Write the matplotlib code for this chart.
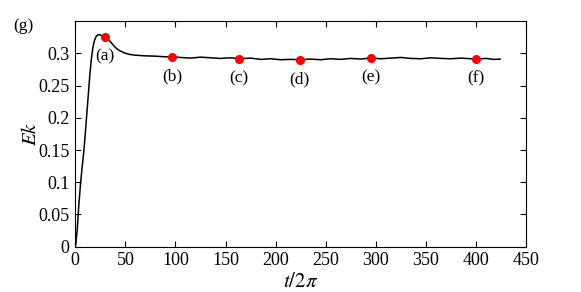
import numpy as np
import matplotlib
matplotlib.use("Agg")
import matplotlib.pyplot as plt

plt.rcParams['font.family'] = ['Liberation Serif', 'DejaVu Serif']
plt.rcParams['mathtext.fontset'] = 'stix'

# kinetic energy time series
t = [0, 0.5, 2, 3.5, 5.4, 7, 8.7, 10, 11.5, 13, 14.5, 16, 17.5, 19, 20.5, 22,
     23.5, 25, 26.5, 28, 30, 32.5, 35, 37.5, 40, 42.5, 45, 50, 55, 60, 70, 80,
     90, 97, 105, 115, 125, 135, 145, 155, 164, 175, 185, 195, 205, 215, 224,
     235, 245, 255, 265, 275, 285, 294, 305, 315, 325, 335, 345, 355, 365,
     375, 385, 400, 410, 418, 424]
ek = [0, 0.003, 0.027, 0.063, 0.100, 0.125, 0.150, 0.175, 0.205, 0.235, 0.265,
      0.290, 0.308, 0.319, 0.325, 0.328, 0.329, 0.3285, 0.327, 0.3265,
      0.3255, 0.322, 0.318, 0.3135, 0.309, 0.306, 0.3035, 0.300, 0.298, 0.297,
      0.296, 0.2955,
      0.2945, 0.2945, 0.2935, 0.2925, 0.2940, 0.2930, 0.2920, 0.2930, 0.2915,
      0.2925, 0.2905, 0.2915, 0.2900, 0.2905, 0.2900,
      0.2910, 0.2900, 0.2915, 0.2905, 0.2920, 0.2910, 0.2925, 0.2915, 0.2925,
      0.2935, 0.2920, 0.2915, 0.2930, 0.2920, 0.2915, 0.2925, 0.2910, 0.2920,
      0.2905, 0.2910]

# marked snapshots
snap_t = [29.7, 96.8, 163.6, 224, 294.7, 399.8]
snap_ek = [0.3255, 0.2945, 0.2915, 0.2900, 0.2925, 0.2910]
snap_labels = ['(a)', '(b)', '(c)', '(d)', '(e)', '(f)']

fig = plt.figure(figsize=(5.81, 2.92), dpi=100)
ax = fig.add_axes([0.1295, 0.155, 0.776, 0.773])

ax.plot(t, ek, color='black', linewidth=1.1)
ax.plot(snap_t, snap_ek, 'o', color='red', markersize=5.5, zorder=3)
for x, y, lab in zip(snap_t, snap_ek, snap_labels):
    ax.annotate(lab, (x, y), xytext=(0, -14), textcoords='offset points',
                ha='center', va='center', fontsize=12.5)

ax.set_xlim(0, 450)
ax.set_ylim(0, 0.35)
ax.set_xticks(np.arange(0, 451, 50))
ax.set_yticks([0, 0.05, 0.1, 0.15, 0.2, 0.25, 0.3])
ax.set_yticklabels(['0', '0.05', '0.1', '0.15', '0.2', '0.25', '0.3'])
ax.tick_params(direction='in', top=True, right=True, labelsize=13, length=4,
               pad=4)
ax.set_xlabel(r'$t/2\pi$', fontsize=15, labelpad=3)
ax.set_ylabel(r'$Ek$', fontsize=15, labelpad=-2)

fig.text(0.04, 0.91, '(g)', fontsize=12.5, ha='center', va='center')

fig.savefig('out.png', dpi=100)
